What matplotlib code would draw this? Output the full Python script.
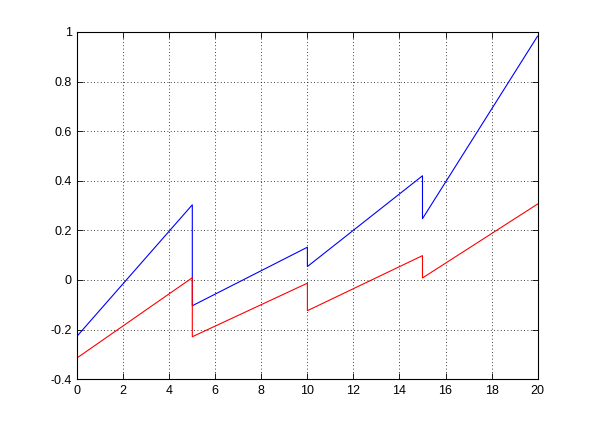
import matplotlib
matplotlib.use('Agg')
import matplotlib.pyplot as plt

# breakpoints (each jump appears as two points at the same x)
x_pts = [0, 5, 5, 10, 10, 15, 15, 20]
blue_y = [-0.226, 0.303, -0.104, 0.132, 0.054, 0.420, 0.247, 0.983]
red_y = [-0.314, 0.009, -0.229, -0.013, -0.124, 0.098, 0.008, 0.306]

x_ticks = [0, 2, 4, 6, 8, 10, 12, 14, 16, 18, 20]
y_ticks = [-0.4, -0.2, 0, 0.2, 0.4, 0.6, 0.8, 1]
y_labels = ['-0.4', '-0.2', '0', '0.2', '0.4', '0.6', '0.8', '1']

plt.rcParams['font.family'] = ['Liberation Sans', 'DejaVu Sans']

fig = plt.figure(figsize=(5.94, 4.26), dpi=100)
ax = fig.add_axes([0.13, 0.11, 0.775, 0.815])

ax.plot(x_pts, blue_y, color='blue', linewidth=0.8)
ax.plot(x_pts, red_y, color='red', linewidth=0.8)

ax.set_xlim(0, 20)
ax.set_ylim(-0.4, 1)
ax.set_xticks(x_ticks)
ax.set_xticklabels([str(t) for t in x_ticks])
ax.set_yticks(y_ticks)
ax.set_yticklabels(y_labels)

ax.grid(True, color='black', linestyle=(0, (1, 3)), linewidth=0.6)
ax.tick_params(direction='in', top=True, right=True, length=4, width=0.6,
               labelsize=9, pad=4)
for s in ax.spines.values():
    s.set_linewidth(0.8)

fig.savefig('out.png', dpi=100)
